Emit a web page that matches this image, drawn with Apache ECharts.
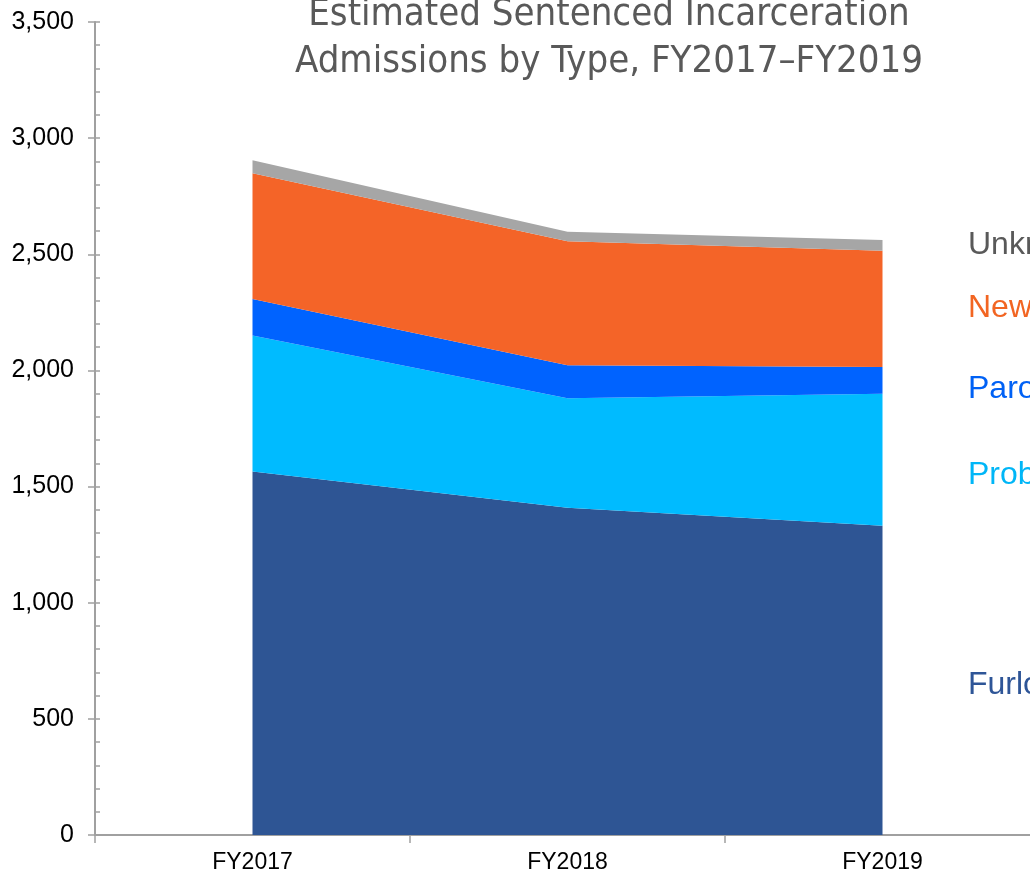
<!DOCTYPE html>
<html><head><meta charset="utf-8">
<script src="https://cdn.jsdelivr.net/npm/echarts@6/dist/echarts.min.js"></script>
<style>html,body{margin:0;padding:0;background:#fff;overflow:hidden}#c{width:1030px;height:874px}</style>
</head><body><div id="c"></div>
<script>
const categories = ['FY2017', 'FY2018', 'FY2019'];
const furlough  = [1565, 1409, 1331];
const probation = [585, 471, 569];
const parole    = [158, 142, 115];
const newCommit = [541, 534, 500];
const unknown   = [56, 41, 47];
const seriesNames = ['Furlough Revocation', 'Probation Revocation', 'Parole Revocation', 'New Commitment', 'Unknown'];
const yTicks = [0, 500, 1000, 1500, 2000, 2500, 3000, 3500];

const colors = ['#2E5594', '#00BBFF', '#0063FF', '#F46428', '#A6A6A6'];
const labelColors = ['#2E5597', '#00B6F7', '#0061F5', '#F26522', '#595959'];
const values = [furlough, probation, parole, newCommit, unknown];

const chart = echarts.init(document.getElementById('c'), null, {renderer: 'canvas'});
const font = 'Liberation Sans, Arial, sans-serif';
const series = values.map((v, i) => ({
  name: seriesNames[i], type: 'line', stack: 'total', data: v,
  symbol: 'none', lineStyle: {width: 0}, areaStyle: {color: colors[i], opacity: 1},
  itemStyle: {color: colors[i]}, silent: true, animation: false
}));
chart.setOption({
  animation: false,
  title: {
    text: 'Estimated Sentenced Incarceration\nAdmissions by Type, FY2017\u2013FY2019',
    left: 604, top: -13, textAlign: 'center',
    textStyle: {fontFamily: 'Liberation Sans Narrow, DejaVu Sans Condensed, sans-serif', fontSize: 38, lineHeight: 47, fontWeight: 'normal', color: '#595959'}
  },
  grid: {left: 95, width: 945, top: 22, bottom: 39, containLabel: false, outerBoundsMode: 'none'},
  xAxis: {
    type: 'category', data: categories, boundaryGap: true,
    axisLine: {lineStyle: {color: '#A0A0A0', width: 2}},
    axisTick: {show: true, length: 8, lineStyle: {color: '#A0A0A0', width: 1.5}},
    axisLabel: {fontFamily: font, fontSize: 23, color: '#000', margin: 16}
  },
  yAxis: [{
    type: 'value', min: yTicks[0], max: yTicks[yTicks.length - 1], interval: 500,
    axisLine: {show: true, lineStyle: {color: '#A0A0A0', width: 2}},
    axisTick: {show: true, length: 7, lineStyle: {color: '#A0A0A0', width: 1.5}},
    splitLine: {show: false},
    axisLabel: {fontFamily: font, fontSize: 25, color: '#000', margin: 21,
      formatter: v => v.toLocaleString('en-US')}
  }, {
    type: 'value', position: 'left', min: yTicks[0], max: yTicks[yTicks.length - 1], interval: 500,
    axisLine: {show: false},
    axisTick: {show: true, inside: true, length: 5, lineStyle: {color: '#A0A0A0', width: 1.5}},
    minorTick: {show: true, splitNumber: 5, length: 5, lineStyle: {color: '#A0A0A0', width: 1.5}},
    splitLine: {show: false}, axisLabel: {show: false}
  }],
  series: series
});

// Right-hand labels: placed at the middle of each band at the last category
const last = categories.length - 1;
let cum = 0;
const labelY = [];
values.forEach((v, i) => { const mid = cum + v[last] / 2; cum += v[last]; labelY.push(mid); });
const labelAdj = [9, 19, 13, 3, 4];
chart.setOption({
  graphic: seriesNames.map((n, i) => ({
    type: 'text', left: 968,
    top: chart.convertToPixel({yAxisIndex: 0}, labelY[i]) - 20 + labelAdj[i],
    style: {text: n, fontFamily: font, fontSize: 32, fill: labelColors[i]}
  }))
});
</script></body></html>
